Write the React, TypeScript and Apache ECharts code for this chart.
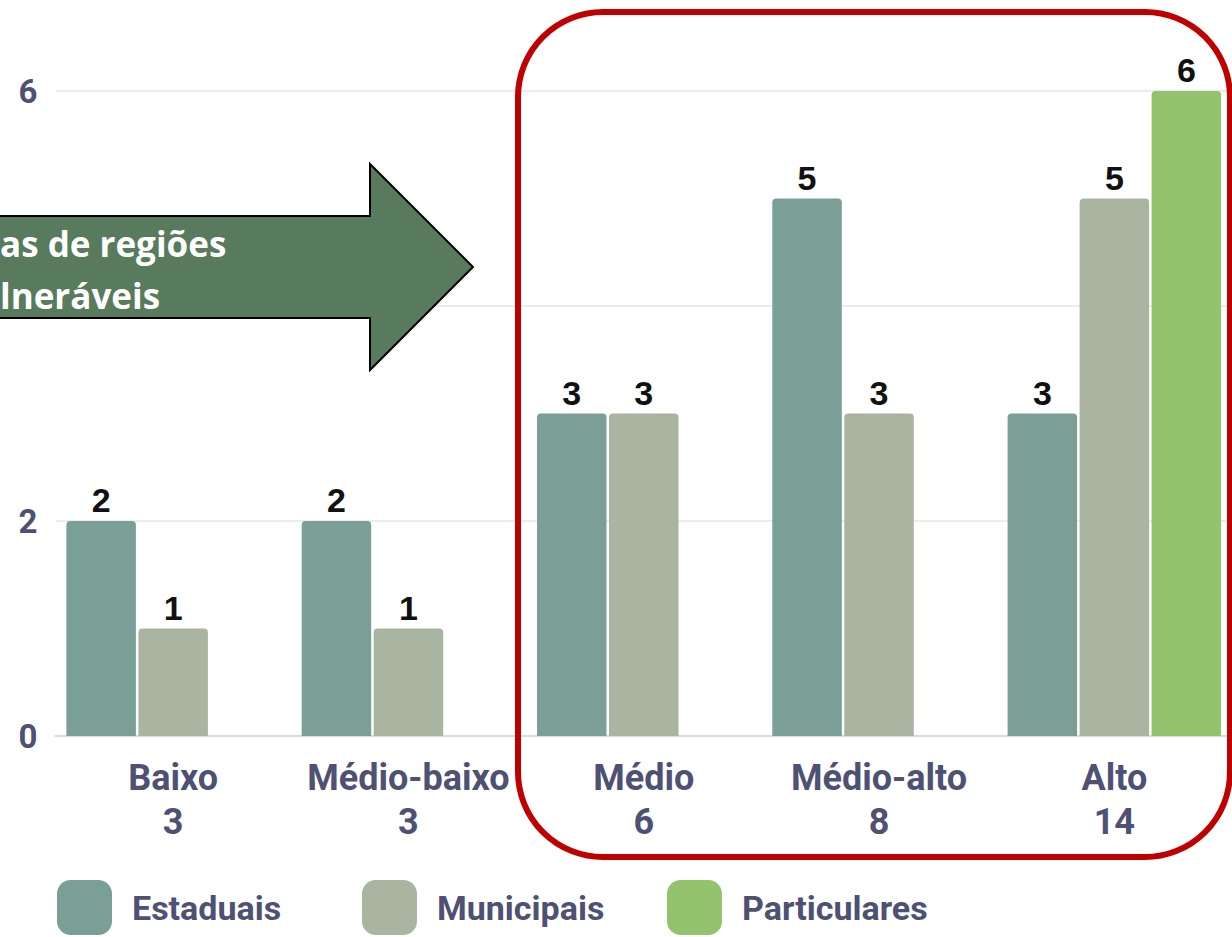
import React, { useEffect, useRef } from "react";
import * as echarts from "echarts";

const categories = ["Baixo", "Médio-baixo", "Médio", "Médio-alto", "Alto"];
const totals = [3, 3, 6, 8, 14];
const estaduais = [2, 2, 3, 5, 3];
const municipais = [1, 1, 3, 3, 5];
const particulares: (number | null)[] = [null, null, null, null, 6];
const seriesNames = ["Estaduais", "Municipais", "Particulares"];
const seriesColors = ["#799f96", "#a9b4a1", "#93c36c"];
const yMin = 0;
const yMax = 6;
const yInterval = 2;
const yHiddenTick = 4; // covered by the arrow in the reference
const arrowLines = ["as de regiões", "lneráveis"];

const axisColor = "#4e5173";

export default function App() {
  const ref = useRef<HTMLDivElement>(null);
  useEffect(() => {
    if (!ref.current) return;
    const chart = echarts.init(ref.current, null, { renderer: "svg" });
    const seriesData = [estaduais, municipais, particulares];
    const legendLeft = [57, 362, 667];
    chart.setOption({
      animation: false,
      backgroundColor: "#ffffff",
      grid: { left: 55.5, top: 91, width: 1180, bottom: 201, containLabel: false },
      xAxis: {
        type: "category",
        data: categories,
        axisTick: { show: false },
        axisLine: { lineStyle: { color: "#d9d9e3", width: 2 } },
        axisLabel: {
          margin: 20,
          fontFamily: "Roboto",
          fontWeight: "bold",
          fontSize: 36,
          lineHeight: 44,
          color: axisColor,
          interval: 0,
          formatter: (v: string, i: number) => `${v}\n${totals[i]}`,
        },
      },
      yAxis: {
        type: "value",
        min: yMin,
        max: yMax,
        interval: yInterval,
        axisLabel: {
          margin: 18,
          fontFamily: "Roboto",
          fontWeight: "bold",
          fontSize: 33,
          color: axisColor,
          formatter: (v: number) => (v === yHiddenTick ? "" : String(v)),
        },
        splitLine: { lineStyle: { color: "#ececec", width: 2 } },
      },
      legend: seriesNames.map((n, i) => ({
        data: [n],
        left: legendLeft[i],
        top: 880,
        padding: 0,
        icon: "roundRect",
        itemWidth: 55,
        itemHeight: 55,
        textStyle: {
          fontFamily: "Roboto",
          fontWeight: "bold",
          fontSize: 34,
          color: axisColor,
          padding: [0, 0, 0, 15],
        },
      })),
      series: seriesNames.map((n, i) => ({
        name: n,
        type: "bar",
        data: seriesData[i],
        barWidth: 69.5,
        barGap: "3.6%",
        itemStyle: { color: seriesColors[i], borderRadius: [4, 4, 0, 0] },
        label: {
          show: true,
          position: "top",
          distance: 4,
          fontFamily: "Liberation Sans",
          fontWeight: "bold",
          fontSize: 34,
          color: "#111111",
        },
      })),
      graphic: [
        {
          type: "polygon",
          z: 100,
          shape: {
            points: [
              [-10, 216],
              [370, 216],
              [370, 164],
              [473, 267],
              [370, 370],
              [370, 318],
              [-10, 318],
            ],
          },
          style: { fill: "#587a5d", stroke: "#000000", lineWidth: 2 },
        },
        {
          type: "text",
          z: 101,
          x: 0,
          y: 243,
          style: {
            text: arrowLines[0],
            fill: "#ffffff",
            fontFamily: "Open Sans",
            fontWeight: "bold",
            fontSize: 35,
            verticalAlign: "middle",
            align: "left",
          },
        },
        {
          type: "text",
          z: 101,
          x: 0,
          y: 295,
          style: {
            text: arrowLines[1],
            fill: "#ffffff",
            fontFamily: "Open Sans",
            fontWeight: "bold",
            fontSize: 35,
            verticalAlign: "middle",
            align: "left",
          },
        },
        {
          type: "rect",
          z: 100,
          shape: { x: 518, y: 12, width: 712, height: 845, r: 85 },
          style: { fill: "none", stroke: "#c00000", lineWidth: 6 },
        },
      ],
    });
    return () => chart.dispose();
  }, []);
  return (
    <div
      ref={ref}
      style={{ position: "fixed", left: 0, top: 0, width: 1232, height: 937 }}
    />
  );
}
